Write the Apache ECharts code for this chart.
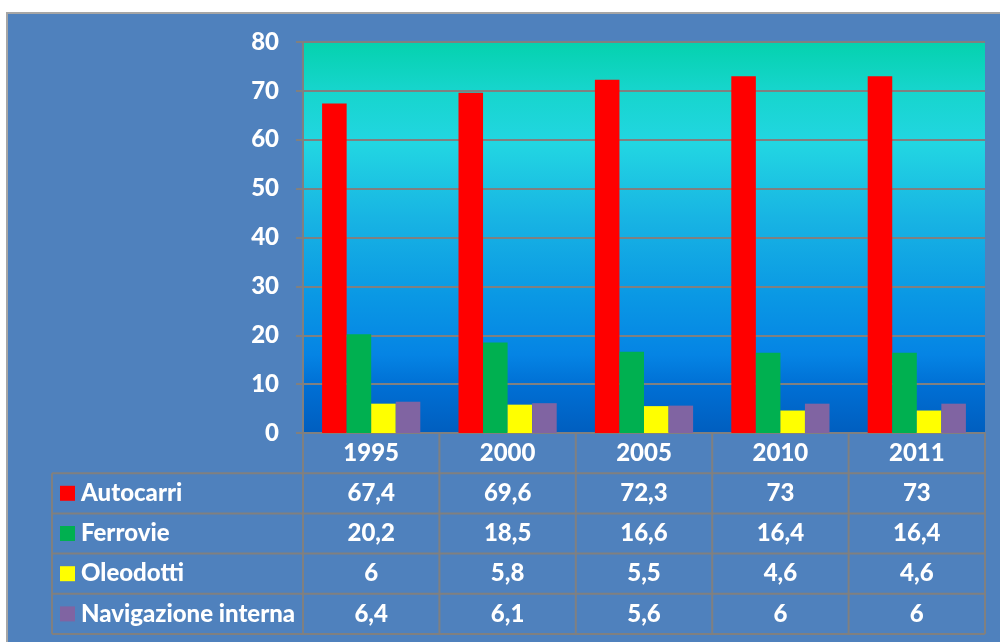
<!DOCTYPE html>
<html>
<head>
<meta charset="utf-8">
<title>Autocarri, Ferrovie, Oleodotti, Navigazione interna</title>
<script src="https://cdn.jsdelivr.net/npm/echarts@6/dist/echarts.min.js"></script>
<style>
    html, body { margin: 0; padding: 0; background: #fff; }
    #wrap { position: relative; width: 1000px; height: 642px; overflow: hidden; }
    #panel {
        position: absolute; left: 6px; top: 12px; right: 0; bottom: 0;
        background: #4F81BD;
        border-top: 2px solid #a6a6a6;
        border-left: 2px solid #a6a6a6;
    }
    #main { position: absolute; left: 0; top: 0; width: 1000px; height: 642px; }
</style>
</head>
<body>
<div id="wrap">
    <div id="panel"></div>
    <div id="main"></div>
</div>
<script>
// dati
var years = ['1995', '2000', '2005', '2010', '2011'];
var seriesNames = ['Autocarri', 'Ferrovie', 'Oleodotti', 'Navigazione interna'];
var autocarri = [67.4, 69.6, 72.3, 73, 73];
var ferrovie = [20.2, 18.5, 16.6, 16.4, 16.4];
var oleodotti = [6, 5.8, 5.5, 4.6, 4.6];
var navigazione = [6.4, 6.1, 5.6, 6, 6];
var colors = ['#FF0000', '#00B050', '#FFFF00', '#8064A2'];

var allValues = [autocarri, ferrovie, oleodotti, navigazione];
var FONT = 'Lato, "Open Sans", sans-serif';
var GRAY = '#808080';

var chart = echarts.init(document.getElementById('main'), null, { renderer: 'canvas' });

var option = {
    backgroundColor: 'transparent',
    animation: false,
    grid: {
        left: 303, right: 15, top: 42, bottom: 209,
        show: true,
        borderWidth: 0,
        backgroundColor: new echarts.graphic.LinearGradient(0, 0, 0, 1, [
            { offset: 0, color: '#04D2AE' },
            { offset: 0.12, color: '#16D5CC' },
            { offset: 0.26, color: '#22D6E2' },
            { offset: 0.45, color: '#18B4E3' },
            { offset: 0.65, color: '#0A98E4' },
            { offset: 0.80, color: '#0584E4' },
            { offset: 0.88, color: '#006FD4' },
            { offset: 1, color: '#005EBF' }
        ])
    },
    xAxis: {
        type: 'category',
        data: years,
        axisLine: { show: true, lineStyle: { color: GRAY, width: 2 } },
        axisTick: { show: false },
        axisLabel: { show: false }
    },
    yAxis: {
        type: 'value',
        min: 0, max: 80, interval: 10,
        axisLine: { show: true, lineStyle: { color: GRAY, width: 2 } },
        axisTick: { show: true, length: 7, lineStyle: { color: GRAY, width: 2 } },
        axisLabel: {
            color: '#fff', fontSize: 24, fontWeight: 900, fontFamily: FONT, margin: 24
        },
        splitLine: { show: true, lineStyle: { color: GRAY, width: 2 } }
    },
    series: seriesNames.map(function (name, i) {
        return {
            name: name,
            type: 'bar',
            data: allValues[i],
            barGap: '0%',
            barCategoryGap: '28%',
            itemStyle: { color: colors[i] }
        };
    })
};
chart.setOption(option);

// tabella dati sotto il grafico
function fmt(v) { return String(v).replace('.', ','); }

var top0 = 433, rowH = 40.2, tableLeft = 52;
var nRows = seriesNames.length + 1;
var bottom = top0 + rowH * nRows;
var band = chart.convertToPixel({ xAxisIndex: 0 }, years[1]) - chart.convertToPixel({ xAxisIndex: 0 }, years[0]);
var firstX = chart.convertToPixel({ xAxisIndex: 0 }, years[0]) - band / 2;
var lastX = firstX + band * years.length;

var els = [];
function line(x1, y1, x2, y2) {
    els.push({ type: 'line', shape: { x1: x1, y1: y1, x2: x2, y2: y2 }, style: { stroke: GRAY, lineWidth: 2 }, z: 10 });
}
function text(str, x, y, align) {
    els.push({
        type: 'text', x: x, y: y, z: 11,
        style: { text: str, fill: '#fff', font: '900 24px ' + FONT, align: align || 'center', verticalAlign: 'middle' }
    });
}

// linee orizzontali
for (var r = 1; r <= nRows; r++) line(tableLeft, top0 + rowH * r, lastX, top0 + rowH * r);
// linee verticali
for (var c = 0; c <= years.length; c++) line(firstX + band * c, top0, firstX + band * c, bottom);
line(tableLeft, top0 + rowH, tableLeft, bottom);

// intestazione anni
years.forEach(function (y, i) {
    text(y, chart.convertToPixel({ xAxisIndex: 0 }, y), top0 + rowH / 2);
});
// righe
seriesNames.forEach(function (name, s) {
    var cy = top0 + rowH * (s + 1.5);
    els.push({ type: 'rect', shape: { x: 60, y: cy - 7.5, width: 15, height: 15 }, style: { fill: colors[s] }, z: 11 });
    text(name, 81, cy, 'left');
    allValues[s].forEach(function (v, i) {
        text(fmt(v), chart.convertToPixel({ xAxisIndex: 0 }, years[i]), cy);
    });
});

chart.setOption({ graphic: { elements: els } });
</script>
</body>
</html>
